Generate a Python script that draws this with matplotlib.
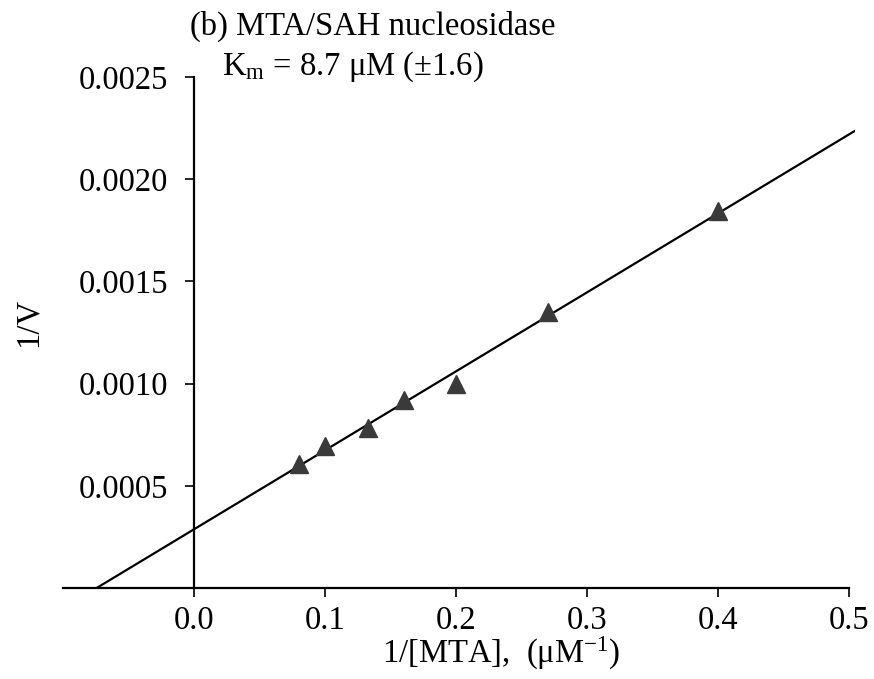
import numpy as np
import matplotlib
matplotlib.use("Agg")
import matplotlib.pyplot as plt

plt.rcParams['font.family'] = ['Liberation Serif', 'DejaVu Serif']
plt.rcParams['mathtext.fontset'] = 'custom'
plt.rcParams['mathtext.rm'] = 'Liberation Serif'
plt.rcParams['mathtext.it'] = 'Liberation Serif:italic'

# Lineweaver-Burk data for MTA
inv_mta = [0.08, 0.10, 0.133, 0.16, 0.20, 0.27, 0.40]
inv_v = [0.000608, 0.000696, 0.000784, 0.000921, 0.00100, 0.001348, 0.001842]
x_ticks = [0.0, 0.1, 0.2, 0.3, 0.4, 0.5]
y_ticks = [0.0005, 0.0010, 0.0015, 0.0020, 0.0025]

fs = 23.5

fig = plt.figure(figsize=(8.74, 6.79), dpi=100)
ax = fig.add_axes([0.0721, 0.134, 0.9067, 0.7526])

# least squares line, drawn from the x intercept out past the last tick
slope, icept = np.polyfit(inv_mta, inv_v, 1)
x0 = -icept / slope
xl = np.array([x0, 0.505])
ax.plot(xl, slope * xl + icept, color='black', lw=1.6, zorder=2)

ax.plot(inv_mta, inv_v, linestyle='none', marker='^', markersize=13,
        color='#3a3a3a', markeredgecolor='#3a3a3a', zorder=3)

ax.set_xlim(-0.1, 0.505)
ax.set_ylim(0, 0.0025)

ax.spines['top'].set_visible(False)
ax.spines['right'].set_visible(False)
ax.spines['left'].set_position(('data', 0))
ax.spines['bottom'].set_bounds(-0.1, 0.5)
for s in ('left', 'bottom'):
    ax.spines[s].set_linewidth(1.6)

ax.set_xticks(x_ticks)
ax.set_xticklabels(['%.1f' % t for t in x_ticks])
ax.set_yticks(y_ticks)
ax.set_yticklabels(['%.4f' % t for t in y_ticks])
ax.tick_params(direction='out', length=6.5, width=1.2, labelsize=fs, pad=6)
ax.tick_params(axis='y', pad=12)

fig.text(0.2174, 0.9485, '(b) MTA/SAH nucleosidase', fontsize=fs,
         ha='left', va='baseline')
fig.text(0.254, 0.8895, r'K$_{\mathrm{m}}$ = 8.7 μM (±1.6)', fontsize=fs,
         ha='left', va='baseline')
fig.text(0.032, 1 - 322 / 679, '1/V', fontsize=fs, rotation=90,
         ha='center', va='center')
fig.text(0.573, 0.0236, r'1/[MTA],  (μM$^{\mathrm{-1}}$)', fontsize=fs,
         ha='center', va='baseline')

fig.savefig('out.png', dpi=100)
